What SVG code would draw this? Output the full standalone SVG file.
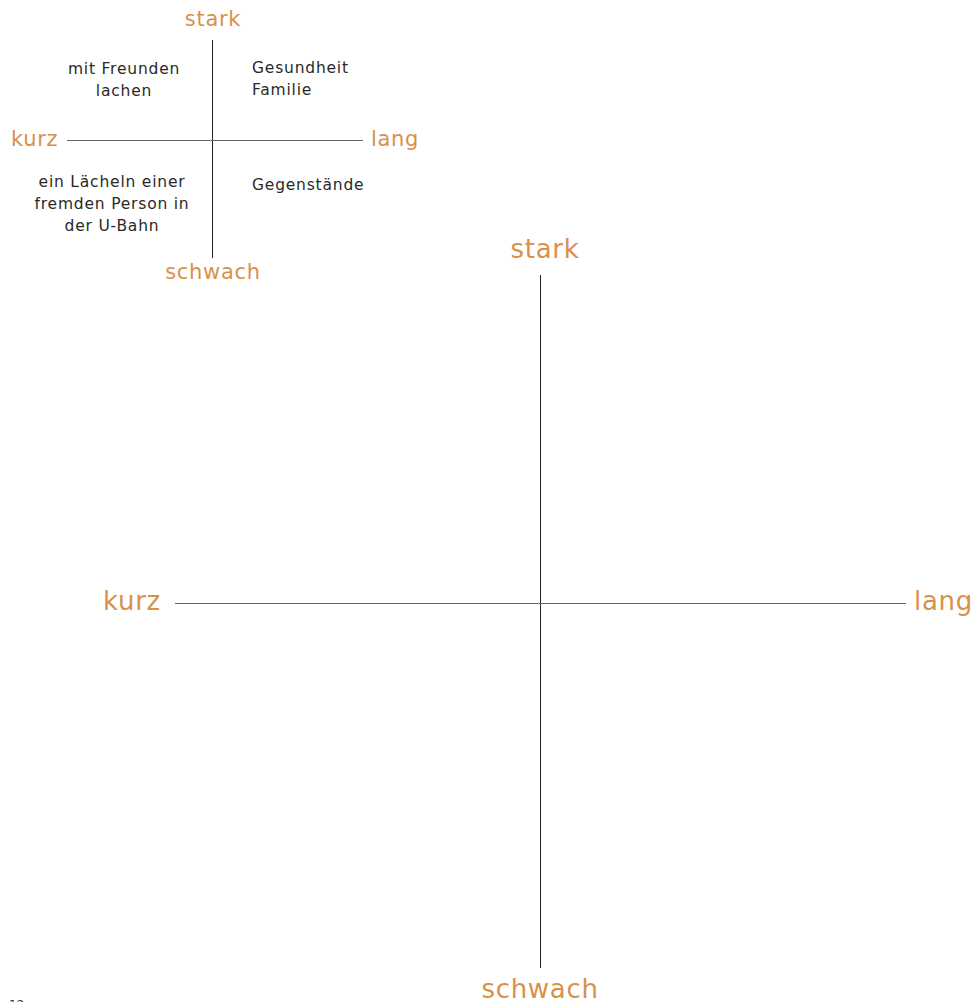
<svg xmlns="http://www.w3.org/2000/svg" width="974" height="1002" viewBox="0 0 974 1002">
<style>
.ax{font-family:"DejaVu Sans","Liberation Sans",sans-serif;fill:#D9914A;letter-spacing:0.7px}
.q{font-family:"DejaVu Sans","Liberation Sans",sans-serif;fill:#2a2a2a;font-size:15.5px;letter-spacing:0.8px}
.v{stroke:#222;stroke-width:1}
.h{stroke:#666;stroke-width:1}
</style>
<rect width="974" height="1002" fill="#fff"/>
<g id="connectors">
<line class="v" x1="212.5" y1="40" x2="212.5" y2="258"/>
<line class="h" x1="67" y1="140.5" x2="363" y2="140.5"/>
<line class="v" x1="540.5" y1="275" x2="540.5" y2="968"/>
<line class="h" x1="175" y1="603.5" x2="906" y2="603.5"/>
</g>
<g id="small-labels">
<text class="ax" x="213" y="26" font-size="21" text-anchor="middle">stark</text>
<text class="ax" x="11" y="146" font-size="21">kurz</text>
<text class="ax" x="371" y="146" font-size="21">lang</text>
<text class="ax" x="213" y="279" font-size="21" text-anchor="middle">schwach</text>
</g>
<g id="quadrant-tl"><text class="q" text-anchor="middle"><tspan x="124" y="74">mit Freunden</tspan><tspan x="124" y="96">lachen</tspan></text></g>
<g id="quadrant-tr"><text class="q"><tspan x="252" y="73">Gesundheit</tspan><tspan x="252" y="95">Familie</tspan></text></g>
<g id="quadrant-bl"><text class="q" text-anchor="middle"><tspan x="112" y="187">ein Lächeln einer</tspan><tspan x="112" y="209">fremden Person in</tspan><tspan x="112" y="231">der U-Bahn</tspan></text></g>
<g id="quadrant-br"><text class="q" x="252" y="190">Gegenstände</text></g>
<g id="large-labels">
<text class="ax" x="545" y="258" font-size="26" text-anchor="middle">stark</text>
<text class="ax" x="103" y="610" font-size="26">kurz</text>
<text class="ax" x="914" y="610" font-size="26">lang</text>
<text class="ax" x="540" y="998" font-size="26" text-anchor="middle">schwach</text>
</g>
<text x="9" y="1009" font-family="DejaVu Sans, Liberation Sans, sans-serif" font-size="12" fill="#333">12</text>
</svg>
